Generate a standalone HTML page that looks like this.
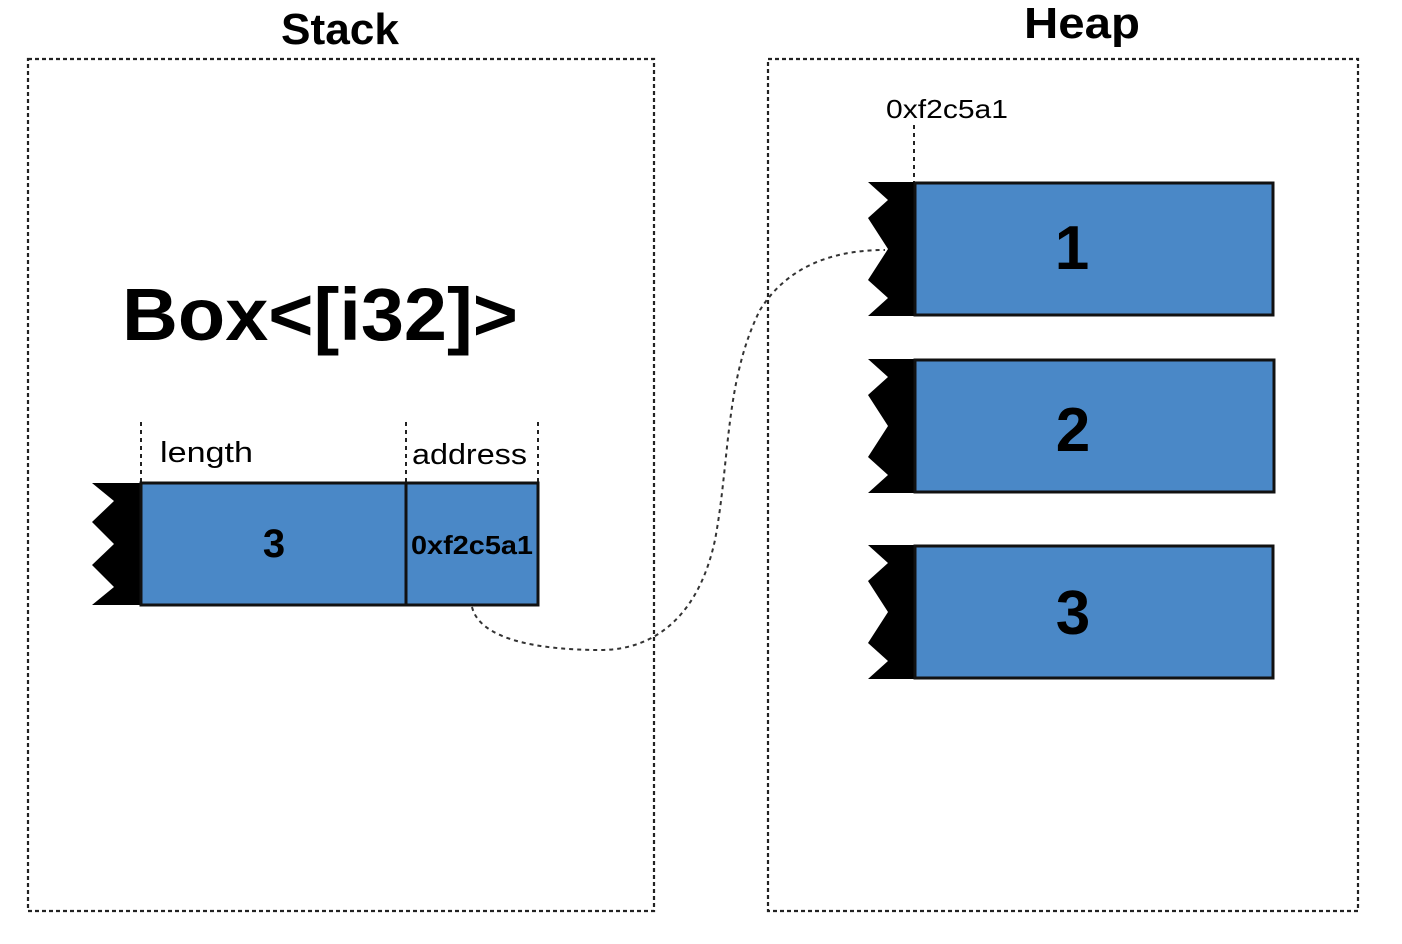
<!DOCTYPE html>
<html><head><style>html,body{margin:0;padding:0;background:#fff}svg{display:block}</style></head>
<body>
<svg width="1402" height="944" viewBox="0 0 1402 944" xmlns="http://www.w3.org/2000/svg" font-family="Liberation Sans, sans-serif">
<rect x="28" y="59" width="626" height="852" fill="none" stroke="#222" stroke-width="2.2" stroke-dasharray="4,3"/>
<rect x="768" y="59" width="590" height="852" fill="none" stroke="#222" stroke-width="2.2" stroke-dasharray="4,3"/>
<text x="340" y="44" text-anchor="middle" font-weight="bold" font-size="44" textLength="118" lengthAdjust="spacingAndGlyphs">Stack</text>
<text x="1082" y="38" text-anchor="middle" font-weight="bold" font-size="44" textLength="116" lengthAdjust="spacingAndGlyphs">Heap</text>
<text x="122" y="340" font-weight="bold" font-size="74" textLength="396" lengthAdjust="spacingAndGlyphs">Box&lt;[i32]&gt;</text>

<g stroke="#222" stroke-width="2" stroke-dasharray="4,4" fill="none">
<line x1="141" y1="422" x2="141" y2="483"/>
<line x1="406" y1="422" x2="406" y2="483"/>
<line x1="538" y1="422" x2="538" y2="483"/>
<line x1="914" y1="125" x2="914" y2="182"/>
<path d="M472,607 C480,640 540,650 600,650 C660,650 700,610 715,540 C730,460 725,380 760,310 C790,262 840,250 885,250" stroke="#333"/>
</g>

<text x="160" y="462" font-size="29" textLength="93" lengthAdjust="spacingAndGlyphs">length</text>
<text x="412" y="464" font-size="29" textLength="115" lengthAdjust="spacingAndGlyphs">address</text>
<text x="886" y="118" font-size="26" textLength="122" lengthAdjust="spacingAndGlyphs">0xf2c5a1</text>

<!-- stack element -->
<polygon points="92,483 141,483 141,605 92,605 114,587 92,565 114,544 92,522 114,501" fill="#000"/>
<rect x="141" y="483" width="397" height="122" fill="#4a88c7" stroke="#111" stroke-width="3"/>
<line x1="406" y1="483" x2="406" y2="605" stroke="#111" stroke-width="3"/>
<text x="274" y="557" text-anchor="middle" font-weight="bold" font-size="40">3</text>
<text x="472" y="554" text-anchor="middle" font-weight="bold" font-size="26" textLength="122" lengthAdjust="spacingAndGlyphs">0xf2c5a1</text>

<!-- heap elements -->
<g>
<polygon points="868,182 915,182 915,316 868,316 888,298 868,280 888,249 868,218 888,200" fill="#000"/>
<rect x="915" y="183" width="358" height="132" fill="#4a88c7" stroke="#111" stroke-width="3"/>
<text x="1072" y="269" text-anchor="middle" font-weight="bold" font-size="62">1</text>
</g>
<g>
<polygon points="868,359 915,359 915,493 868,493 888,475 868,457 888,426 868,395 888,377" fill="#000"/>
<rect x="915" y="360" width="359" height="132" fill="#4a88c7" stroke="#111" stroke-width="3"/>
<text x="1073" y="451" text-anchor="middle" font-weight="bold" font-size="62">2</text>
</g>
<g>
<polygon points="868,545 915,545 915,679 868,679 888,661 868,643 888,612 868,581 888,563" fill="#000"/>
<rect x="915" y="546" width="358" height="132" fill="#4a88c7" stroke="#111" stroke-width="3"/>
<text x="1073" y="634" text-anchor="middle" font-weight="bold" font-size="62">3</text>
</g>
</svg>
</body></html>
